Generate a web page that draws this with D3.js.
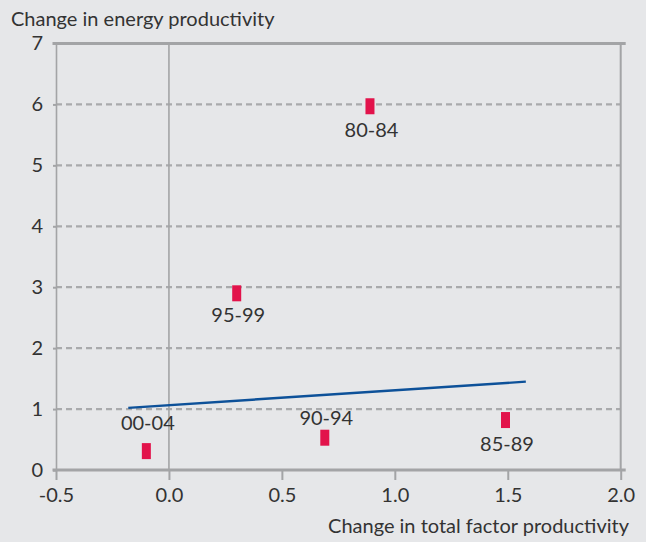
<!DOCTYPE html>
<html>
<head>
<meta charset="utf-8">
<script src="https://cdn.jsdelivr.net/npm/d3@7/dist/d3.min.js"></script>
<style>
  html, body { margin: 0; padding: 0; background: #e6e7e9; }
  svg { display: block; }
  text { font-family: Lato, "Noto Sans", sans-serif; fill: #333; }
</style>
</head>
<body>
<svg id="chart" width="646" height="542"></svg>
<script>
// ---- data ----
const periods = ["80-84", "85-89", "90-94", "95-99", "00-04"];
const tfpChange = [0.89, 1.49, 0.69, 0.30, -0.10];
const energyChange = [5.97, 0.82, 0.53, 2.90, 0.31];
const trendX = [-0.18, 1.58];
const trendY = [1.02, 1.45];
const xTicks = [-0.5, 0.0, 0.5, 1.0, 1.5, 2.0];
const yTicks = [0, 1, 2, 3, 4, 5, 6, 7];
const xTitle = "Change in total factor productivity";
const yTitle = "Change in energy productivity";

// ---- layout ----
const svg = d3.select("#chart");
const x = d3.scaleLinear().domain([-0.5, 2.0]).range([56, 620.7]);
const y = d3.scaleLinear().domain([0, 7]).range([470, 43.5]);
const axisColor = "#a3a4a6";
// label offsets (px) relative to marker centre
const labelDy = {"80-84": 31, "85-89": 31, "90-94": -13, "95-99": 29, "00-04": -21};

// dashed gridlines 1..6
svg.append("g").selectAll("line")
  .data(yTicks.filter(d => d > 0 && d < 7))
  .join("line")
  .attr("x1", x(-0.5)).attr("x2", x(2.0))
  .attr("y1", d => y(d)).attr("y2", d => y(d))
  .attr("stroke", "#a9aaac").attr("stroke-width", 2.2)
  .attr("stroke-dasharray", "6,4");

// vertical zero line
svg.append("line")
  .attr("x1", x(0)).attr("x2", x(0))
  .attr("y1", y(7)).attr("y2", y(0))
  .attr("stroke", axisColor).attr("stroke-width", 1.6);

// left axis
const yAxis = d3.axisLeft(y).tickValues(yTicks).tickSize(3).tickPadding(10).tickFormat(d3.format("d"));
const gy = svg.append("g").attr("transform", `translate(${x(-0.5)},0)`).call(yAxis);
gy.select(".domain").attr("stroke", axisColor).attr("stroke-width", 1.6);
gy.selectAll(".tick line").attr("stroke", axisColor).attr("stroke-width", 2);
gy.selectAll(".tick text").attr("font-size", 20).attr("fill", "#333")
  .attr("font-family", "Lato, sans-serif");

// bottom axis
const xAxis = d3.axisBottom(x).tickValues(xTicks).tickSize(10).tickPadding(8).tickFormat(d3.format(".1f"));
const gx = svg.append("g").attr("transform", `translate(0,${y(0)})`).call(xAxis);
gx.select(".domain").remove();
gx.selectAll(".tick line").attr("stroke", axisColor).attr("stroke-width", 2);
gx.selectAll(".tick text").attr("font-size", 20).attr("fill", "#333")
  .attr("font-family", "Lato, sans-serif")
  .text(d => d < 0 ? "-" + d3.format(".1f")(-d) : d3.format(".1f")(d));

// bottom axis line (extends a little)
svg.append("line")
  .attr("x1", x(-0.5) - 3.5).attr("x2", x(2.0) + 5)
  .attr("y1", y(0)).attr("y2", y(0))
  .attr("stroke", axisColor).attr("stroke-width", 3);

// top border line
svg.append("line")
  .attr("x1", x(-0.5) - 3.5).attr("x2", x(2.0) + 5)
  .attr("y1", y(7)).attr("y2", y(7))
  .attr("stroke", axisColor).attr("stroke-width", 3);

// right border line
svg.append("line")
  .attr("x1", x(2.0)).attr("x2", x(2.0))
  .attr("y1", y(7)).attr("y2", y(0))
  .attr("stroke", axisColor).attr("stroke-width", 2);

// trend line
svg.append("line")
  .attr("x1", x(trendX[0])).attr("x2", x(trendX[1]))
  .attr("y1", y(trendY[0])).attr("y2", y(trendY[1]))
  .attr("stroke", "#0d5199").attr("stroke-width", 2.4);

// markers
const pts = periods.map((p, i) => ({p, xv: tfpChange[i], yv: energyChange[i]}));
svg.append("g").selectAll("rect")
  .data(pts).join("rect")
  .attr("x", d => x(d.xv) - 4.5).attr("y", d => y(d.yv) - 8)
  .attr("width", 9).attr("height", 16)
  .attr("fill", "#e2134b");

svg.append("g").selectAll("text")
  .data(pts).join("text")
  .attr("x", d => x(d.xv) + 1.5)
  .attr("y", d => y(d.yv) + labelDy[d.p])
  .attr("text-anchor", "middle")
  .attr("font-size", 20)
  .text(d => d.p);

// titles
svg.append("text").attr("x", 11).attr("y", 26).attr("font-size", 20).text(yTitle);
svg.append("text").attr("x", 629).attr("y", 533).attr("text-anchor", "end").attr("font-size", 20).text(xTitle);
</script>
</body>
</html>
